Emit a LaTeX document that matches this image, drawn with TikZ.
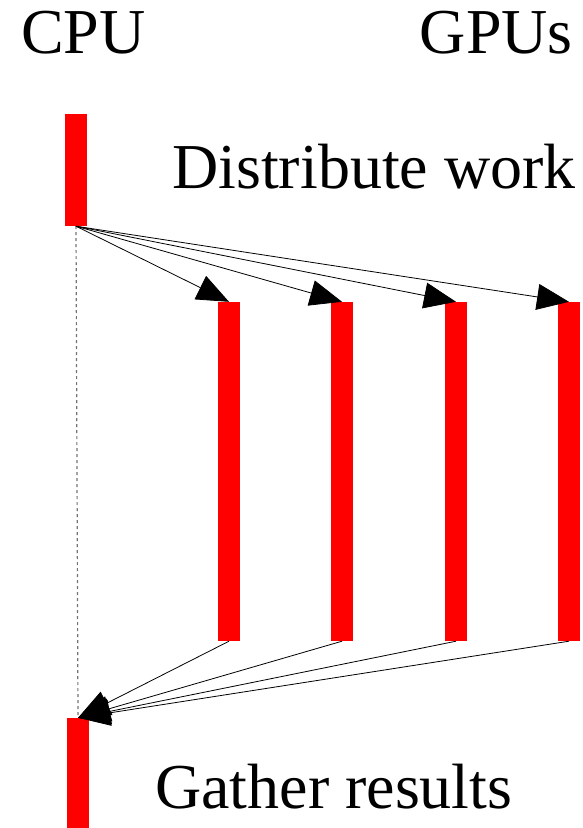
\documentclass[tikz,border=0pt]{standalone}
\usepackage{fontspec}
\setmainfont{Liberation Serif}
\usetikzlibrary{arrows.meta}
\begin{document}
\begin{tikzpicture}[x=1pt,y=1pt,
  bar/.style={fill=red,draw=none,inner sep=0pt,minimum width=22pt},
  lbl/.style={font=\fontsize{64}{76}\selectfont,inner sep=0pt},
  conn/.style={-{Triangle[length=32pt,width=26pt]},line width=0.8pt},
  guide/.style={draw=gray!90!black,dash pattern=on 3pt off 3pt,line width=1.2pt}]
\useasboundingbox (0,0) rectangle (582,-828);
\node[lbl,anchor=base west] (cpul) at (21,-53) {CPU};
\node[lbl,anchor=base east] (gpul) at (573,-53) {GPUs};
\node[lbl,anchor=base east] (dist) at (576,-188) {Distribute work};
\node[lbl,anchor=base west] (gath) at (155,-808) {Gather results};
\node[bar,minimum height=112pt] (cpu) at (76,-170) {};
\node[bar,minimum height=110pt] (cpub) at (78,-773) {};
\foreach \i/\x in {1/229,2/342,3/456,4/569}{
  \node[bar,minimum height=339pt] (g\i) at (\x,-471.5) {};
}
\draw[guide] (cpu.south) -- (cpub.north);
\foreach \i in {1,...,4}{
  \draw[conn] (cpu.south) -- (g\i.north);
  \draw[conn] (g\i.south) -- (cpub.north);
}
\end{tikzpicture}
\end{document}
